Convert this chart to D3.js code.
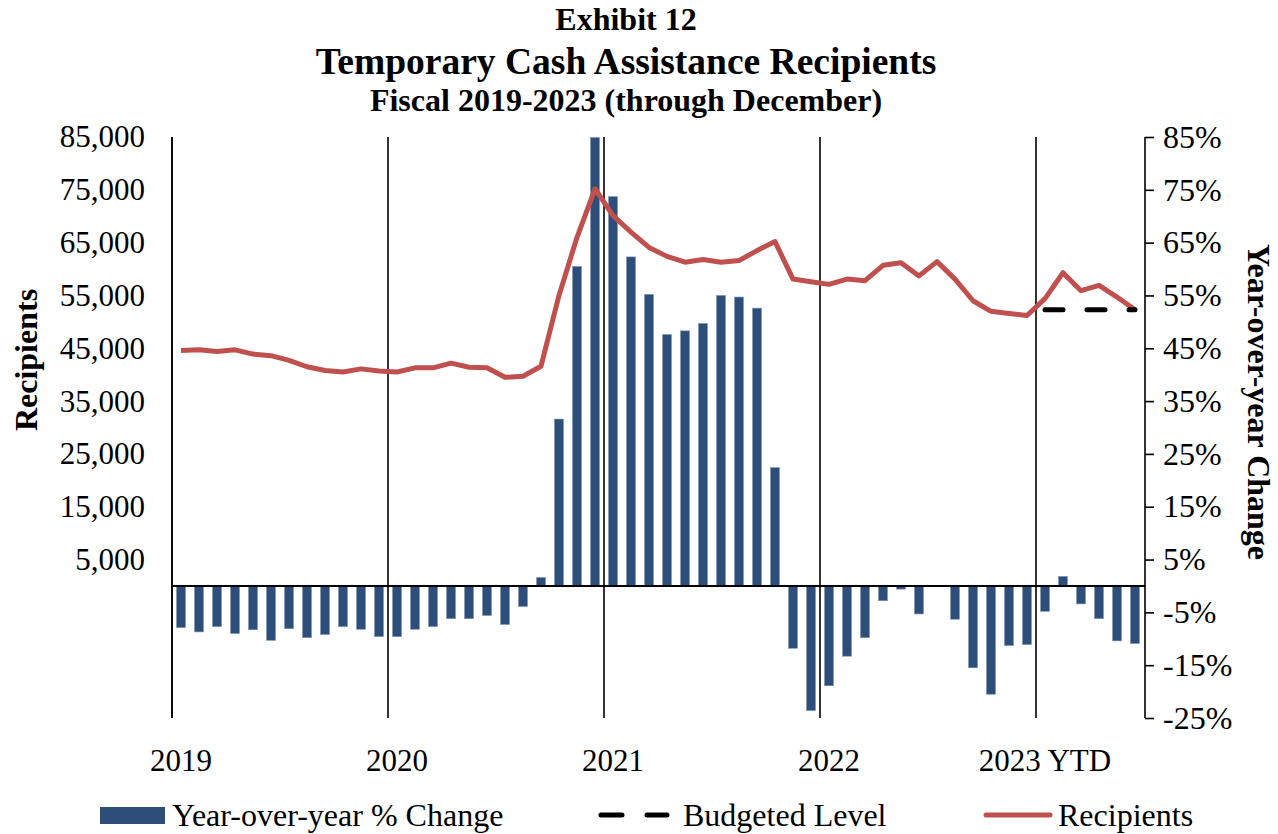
<!DOCTYPE html>
<html>
<head>
<meta charset="utf-8">
<script src="https://cdn.jsdelivr.net/npm/d3@7"></script>
<style>
  body { margin: 0; background: #fff; }
  svg text { font-family: "Liberation Serif", "Times New Roman", serif; fill: #000; }
</style>
</head>
<body>
<script>
// months of each fiscal year, Jul 2018 .. Dec 2022
var months = [
  "Jul-18","Aug-18","Sep-18","Oct-18","Nov-18","Dec-18","Jan-19","Feb-19","Mar-19","Apr-19","May-19","Jun-19",
  "Jul-19","Aug-19","Sep-19","Oct-19","Nov-19","Dec-19","Jan-20","Feb-20","Mar-20","Apr-20","May-20","Jun-20",
  "Jul-20","Aug-20","Sep-20","Oct-20","Nov-20","Dec-20","Jan-21","Feb-21","Mar-21","Apr-21","May-21","Jun-21",
  "Jul-21","Aug-21","Sep-21","Oct-21","Nov-21","Dec-21","Jan-22","Feb-22","Mar-22","Apr-22","May-22","Jun-22",
  "Jul-22","Aug-22","Sep-22","Oct-22","Nov-22","Dec-22"];

var recipients = [
  44600, 44700, 44400, 44700, 43900, 43600, 42700, 41500, 40800, 40500, 41100, 40700,
  40500, 41300, 41300, 42200, 41400, 41300, 39500, 39700, 41600, 55000, 66000, 75200,
  70100, 67000, 64100, 62400, 61300, 61800, 61300, 61600, 63500, 65200, 58100, 57600,
  57100, 58100, 57800, 60700, 61200, 58700, 61400, 58100, 54000, 52000, 51600, 51200,
  54400, 59300, 55900, 56900, 54700, 52300];

var yoyChange = [
  -7.9, -8.7, -7.7, -9.0, -8.3, -10.3, -8.1, -9.8, -9.2, -7.7, -8.2, -9.6,
  -9.6, -8.2, -7.7, -6.2, -6.2, -5.6, -7.3, -3.9, 1.6, 31.6, 60.5, 84.9,
  73.7, 62.3, 55.2, 47.6, 48.3, 49.7, 55.0, 54.7, 52.6, 22.4, -11.8, -23.6,
  -18.9, -13.3, -9.8, -2.8, -0.6, -5.3, 0.0, -6.3, -15.5, -20.5, -11.3, -11.1,
  -4.8, 1.8, -3.4, -6.2, -10.4, -10.9];

var budgetMonths = ["Jul-22","Aug-22","Sep-22","Oct-22","Nov-22","Dec-22"];
var budgeted = [52300, 52300, 52300, 52300, 52300, 52300];

var yearStarts = ["Jul-18","Jul-19","Jul-20","Jul-21","Jul-22"];
var yearLabels = ["2019","2020","2021","2022","2023 YTD"];

var leftTicks = [5000, 15000, 25000, 35000, 45000, 55000, 65000, 75000, 85000];
var rightTicks = [-25, -15, -5, 5, 15, 25, 35, 45, 55, 65, 75, 85];

var W = 1278, H = 834;
var plot = {left: 172, right: 1145, top: 137, bottom: 718};
var barColor = "#2d4e78", lineColor = "#c0504d";

var svg = d3.select("body").append("svg")
  .attr("width", W).attr("height", H);

var x = d3.scaleBand()
  .domain(months)
  .range([plot.left, plot.left + 972])
  .paddingInner(0.5)
  .paddingOuter(0.25);

var yPct = d3.scaleLinear().domain([-25, 85]).range([plot.bottom, plot.top]);
var yRec = d3.scaleLinear().domain([-25000, 85000]).range([plot.bottom, plot.top]);

function cx(m) { return x(m) + x.bandwidth() / 2; }
function edge(m) { return x(m) - x.step() * x.paddingOuter(); }

// bars
svg.append("g").selectAll("rect")
  .data(months)
  .enter().append("rect")
  .attr("x", function(d) { return x(d); })
  .attr("width", x.bandwidth())
  .attr("y", function(d, i) { return yPct(Math.max(0, yoyChange[i])); })
  .attr("height", function(d, i) { return Math.abs(yPct(yoyChange[i]) - yPct(0)); })
  .attr("fill", barColor)
  .attr("stroke", "#7f97b8")
  .attr("stroke-width", 0.6);

// year separators
svg.append("g").selectAll("line")
  .data(yearStarts)
  .enter().append("line")
  .attr("x1", function(d) { return edge(d); })
  .attr("x2", function(d) { return edge(d); })
  .attr("y1", plot.top).attr("y2", plot.bottom)
  .attr("stroke", "#000").attr("stroke-width", 1.6);

// zero line
svg.append("line")
  .attr("x1", plot.left).attr("x2", plot.right)
  .attr("y1", yPct(0)).attr("y2", yPct(0))
  .attr("stroke", "#000").attr("stroke-width", 2);

// left axis
var leftAxis = svg.append("g")
  .attr("transform", "translate(" + plot.left + ",0)")
  .call(d3.axisLeft(yRec).tickValues(leftTicks).tickSize(0).tickPadding(27)
    .tickFormat(d3.format(",")));
leftAxis.select(".domain").remove();
leftAxis.append("line")
  .attr("y1", plot.top).attr("y2", plot.bottom)
  .attr("stroke", "#000").attr("stroke-width", 1.6);
leftAxis.selectAll(".tick text")
  .style("font-size", "31px").attr("font-family", null);

// right axis
var rightAxis = svg.append("g")
  .attr("transform", "translate(" + plot.right + ",0)")
  .call(d3.axisRight(yPct).tickValues(rightTicks).tickSize(9).tickPadding(9)
    .tickFormat(function(d) { return d + "%"; }));
rightAxis.select(".domain").remove();
rightAxis.append("line")
  .attr("y1", plot.top).attr("y2", plot.bottom)
  .attr("stroke", "#000").attr("stroke-width", 1.6);
rightAxis.selectAll(".tick line").attr("stroke-width", 1.6);
rightAxis.selectAll(".tick text")
  .style("font-size", "32px").attr("font-family", null);

// recipients line
var line = d3.line()
  .x(function(d) { return cx(d); })
  .y(function(d, i) { return yRec(recipients[i]); });

svg.append("path")
  .datum(months)
  .attr("d", line)
  .attr("fill", "none")
  .attr("stroke", lineColor)
  .attr("stroke-width", 5)
  .attr("stroke-linejoin", "round");

// budgeted level
var budgetLine = d3.line()
  .x(function(d) { return cx(d); })
  .y(function(d, i) { return yRec(budgeted[i]); });

svg.append("path")
  .datum(budgetMonths)
  .attr("d", budgetLine)
  .attr("fill", "none")
  .attr("stroke", "#000")
  .attr("stroke-width", 5)
  .attr("stroke-linecap", "round")
  .attr("stroke-dasharray", "18,24");

// year labels
svg.append("g").selectAll("text")
  .data(yearStarts)
  .enter().append("text")
  .attr("x", function(d) { return cx(d); })
  .attr("y", 771)
  .attr("text-anchor", "middle")
  .style("font-size", "31px")
  .text(function(d, i) { return yearLabels[i]; });

// titles
svg.append("text").attr("x", 626).attr("y", 30).attr("text-anchor", "middle")
  .style("font-size", "32px").style("font-weight", "bold").text("Exhibit 12");
svg.append("text").attr("x", 626).attr("y", 74).attr("text-anchor", "middle")
  .style("font-size", "37.5px").style("font-weight", "bold").text("Temporary Cash Assistance Recipients");
svg.append("text").attr("x", 626).attr("y", 111).attr("text-anchor", "middle")
  .style("font-size", "32px").style("font-weight", "bold").text("Fiscal 2019-2023 (through December)");

svg.append("text")
  .attr("transform", "translate(37,360) rotate(-90)")
  .attr("text-anchor", "middle")
  .style("font-size", "32px").style("font-weight", "bold")
  .text("Recipients");

svg.append("text")
  .attr("transform", "translate(1248,402) rotate(90)")
  .attr("text-anchor", "middle")
  .style("font-size", "32px").style("font-weight", "bold")
  .text("Year-over-year Change");

// legend
var lg = svg.append("g").attr("class", "legend");
lg.append("rect").attr("x", 100).attr("y", 807).attr("width", 65).attr("height", 17).attr("fill", barColor);
lg.append("text").attr("x", 172).attr("y", 826).style("font-size", "32px").text("Year-over-year % Change");
lg.append("line").attr("x1", 601).attr("x2", 667).attr("y1", 815).attr("y2", 815)
  .attr("stroke", "#000").attr("stroke-width", 5).attr("stroke-linecap", "round")
  .attr("stroke-dasharray", "21,25");
lg.append("text").attr("x", 683).attr("y", 826).style("font-size", "32px").text("Budgeted Level");
lg.append("line").attr("x1", 986).attr("x2", 1050).attr("y1", 815).attr("y2", 815)
  .attr("stroke", lineColor).attr("stroke-width", 5).attr("stroke-linecap", "round");
lg.append("text").attr("x", 1058).attr("y", 826).style("font-size", "32px").text("Recipients");
</script>
</body>
</html>
